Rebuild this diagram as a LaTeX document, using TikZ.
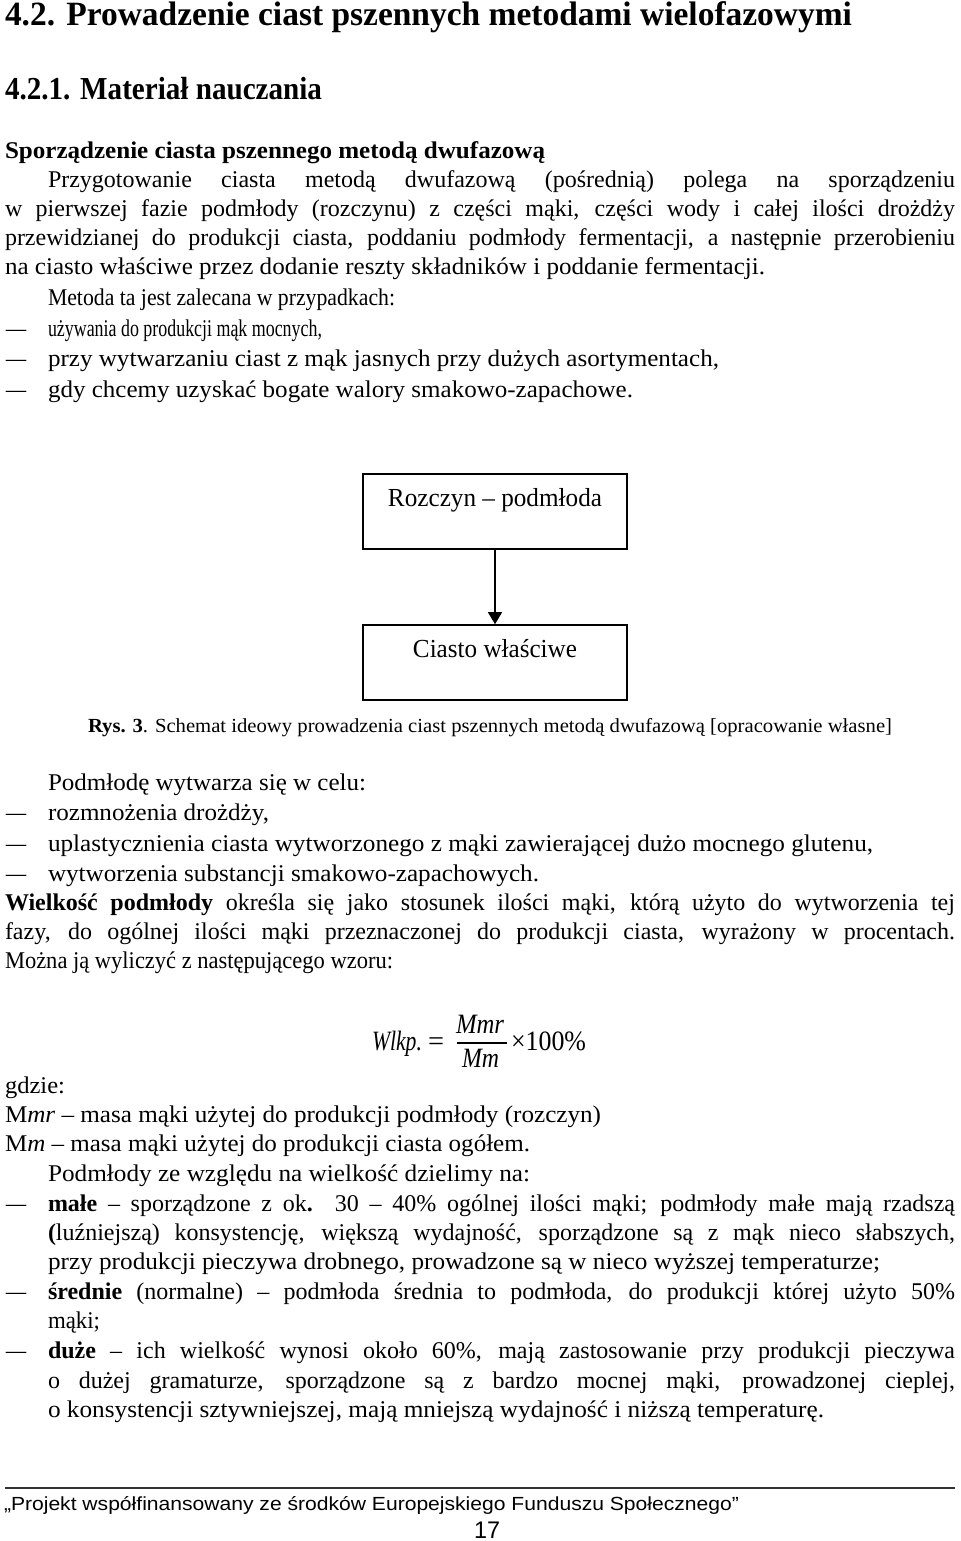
\documentclass[tikz,border=0pt]{standalone}
\usepackage{fontspec}
\setmainfont{Liberation Serif}
\setsansfont{Liberation Sans}
\usepackage{graphicx}
\usetikzlibrary{arrows.meta, positioning}

\newlength\pxu \setlength\pxu{0.5pt}
\newlength\fitwd
\newcommand\fitline[2]{\setlength\fitwd{#1\pxu}\resizebox{\fitwd}{\height}{#2}}
\newcommand\justline[2]{\setlength\fitwd{#1\pxu}\setbox0\hbox{#2}%
  \ifdim\wd0>\fitwd\resizebox{\fitwd}{\height}{\box0}\else\makebox[\fitwd][s]{#2}\fi}

\tikzset{
  txt/.style={anchor=base west, inner sep=0pt, outer sep=0pt, font=\fontsize{12}{14}\selectfont},
  head/.style={txt, font=\fontsize{17}{20}\selectfont\bfseries},
  dashmark/.style={txt},
  flowbox/.style={draw, line width=0.8pt, anchor=base, inner sep=0pt, minimum width=132pt,
    text height=16pt, text depth=21.5pt, font=\fontsize{13}{15}\selectfont},
  formula/.style={txt, font=\fontsize{14}{16}\selectfont\itshape},
  arr/.style={line width=0.6pt, -{Triangle[length=6pt, width=7pt]}}
}

\begin{document}
\begin{tikzpicture}[x=0.5pt, y=-0.5pt]
\fill[white] (0,0) rectangle (960,1541);
\path[use as bounding box] (0,0) rectangle (960,1541);

% headings
\node[head] (head) at (5,26) {\fitline{847}{4.2. Prowadzenie ciast pszennych metodami wielofazowymi}};
\node[head, font=\fontsize{16}{19}\selectfont\bfseries] (sub) at (5,99) {\fitline{317}{4.2.1. Materiał nauczania}};
\node[txt, font=\fontsize{12}{14}\selectfont\bfseries] (sec) at (5,158) {\fitline{540}{Sporządzenie ciasta pszennego metodą dwufazową}};

% first paragraph
\node[txt] (p1) at (48,187) {\justline{907}{Przygotowanie ciasta metodą dwufazową (pośrednią) polega na sporządzeniu}};
\node[txt] (p2) at (5,216) {\justline{950}{w pierwszej fazie podmłody (rozczynu) z części mąki, części wody i całej ilości drożdży}};
\node[txt] (p3) at (5,245) {\justline{950}{przewidzianej do produkcji ciasta, poddaniu podmłody fermentacji, a następnie przerobieniu}};
\node[txt] (p4) at (5,274) {\fitline{760}{na ciasto właściwe przez dodanie reszty składników i poddanie fermentacji.}};
\node[txt] (m0) at (48,305) {\fitline{347}{Metoda ta jest zalecana w przypadkach:}};
\node[txt] (m1) at (48,336) {\fitline{274}{używania do produkcji mąk mocnych,}};
\node[txt] (m2) at (48,366) {\fitline{671}{przy wytwarzaniu ciast z mąk jasnych przy dużych asortymentach,}};
\node[txt] (m3) at (48,397) {\fitline{585}{gdy chcemy uzyskać bogate walory smakowo-zapachowe.}};

% list dashes
\foreach \y [count=\i] in {336,366,397,820,851,881,1211,1299,1358}
  \node[dashmark] (dash\i) at (6,\y) {\fitline{20}{–}};

% scheme
\node[flowbox] (rozczyn) at (495,506) {\fitline{214}{Rozczyn – podmłoda}};
\node[flowbox] (ciasto) at (495,657) {\fitline{164}{Ciasto właściwe}};
\draw[arr] (rozczyn) -- (ciasto);
\node[txt, font=\fontsize{10}{12}\selectfont] (caption) at (88,732) {\fitline{804}{\textbf{Rys. 3}. Schemat ideowy prowadzenia ciast pszennych metodą dwufazową [opracowanie własne]}};

% second part
\node[txt] (c0) at (48,790) {\fitline{318}{Podmłodę wytwarza się w celu:}};
\node[txt] (c1) at (48,820) {\fitline{221}{rozmnożenia drożdży,}};
\node[txt] (c2) at (48,851) {\fitline{825}{uplastycznienia ciasta wytworzonego z mąki zawierającej dużo mocnego glutenu,}};
\node[txt] (c3) at (48,881) {\fitline{491}{wytworzenia substancji smakowo-zapachowych.}};
\node[txt] (w1) at (5,910) {\justline{950}{\textbf{Wielkość podmłody} określa się jako stosunek ilości mąki, którą użyto do wytworzenia tej}};
\node[txt] (w2) at (5,939) {\justline{950}{fazy, do ogólnej ilości mąki przeznaczonej do produkcji ciasta, wyrażony w procentach.}};
\node[txt] (w3) at (5,968) {\fitline{388}{Można ją wyliczyć z następującego wzoru:}};

% formula
\node[formula] (wlkp) at (372,1050) {\fitline{50}{Wlkp.}};
\node[formula, font=\fontsize{14}{16}\selectfont] (eq) at (428,1050) {\fitline{16}{=}};
\node[formula] (mmr) at (456,1033) {\fitline{48}{Mmr}};
\node[formula] (mm) at (462,1067) {\fitline{37}{Mm}};
\draw[line width=0.6pt] (457,1043) -- (507,1043);
\node[formula, font=\fontsize{14}{16}\selectfont] (pct) at (511,1050) {\fitline{75}{×100\%}};

\node[txt] (g0) at (5,1093) {\fitline{60}{gdzie:}};
\node[txt] (g1) at (5,1122) {\fitline{596}{M\textit{mr} – masa mąki użytej do produkcji podmłody (rozczyn)}};
\node[txt] (g2) at (5,1151) {\fitline{525}{M\textit{m} – masa mąki użytej do produkcji ciasta ogółem.}};
\node[txt] (s0) at (48,1181) {\fitline{482}{Podmłody ze względu na wielkość dzielimy na:}};
\node[txt] (s1) at (48,1211) {\justline{907}{\textbf{małe} – sporządzone z ok\textbf{.} 30 – 40\% ogólnej ilości mąki; podmłody małe mają rzadszą}};
\node[txt] (s2) at (48,1240) {\justline{907}{\textbf{(}luźniejszą) konsystencję, większą wydajność, sporządzone są z mąk nieco słabszych,}};
\node[txt] (s3) at (48,1269) {\fitline{832}{przy produkcji pieczywa drobnego, prowadzone są w nieco wyższej temperaturze;}};
\node[txt] (s4) at (48,1299) {\justline{907}{\textbf{średnie} (normalne) – podmłoda średnia to podmłoda, do produkcji której użyto 50\%}};
\node[txt] (s5) at (48,1328) {\fitline{52}{mąki;}};
\node[txt] (s6) at (48,1358) {\justline{907}{\textbf{duże} – ich wielkość wynosi około 60\%, mają zastosowanie przy produkcji pieczywa}};
\node[txt] (s7) at (48,1388) {\justline{907}{o dużej gramaturze, sporządzone są z bardzo mocnej mąki, prowadzonej cieplej,}};
\node[txt] (s8) at (48,1417) {\fitline{776}{o konsystencji sztywniejszej, mają mniejszą wydajność i niższą temperaturę.}};

% footer
\draw[line width=1pt, black!80] (5,1488) -- (955,1488);
\node[txt, font=\sffamily\fontsize{9.5}{11}\selectfont] (project) at (4,1510) {\fitline{735}{„Projekt współfinansowany ze środków Europejskiego Funduszu Społecznego”}};
\node[txt, font=\sffamily\fontsize{12}{14}\selectfont] (page) at (474,1538) {\fitline{26}{17}};
\end{tikzpicture}
\end{document}
